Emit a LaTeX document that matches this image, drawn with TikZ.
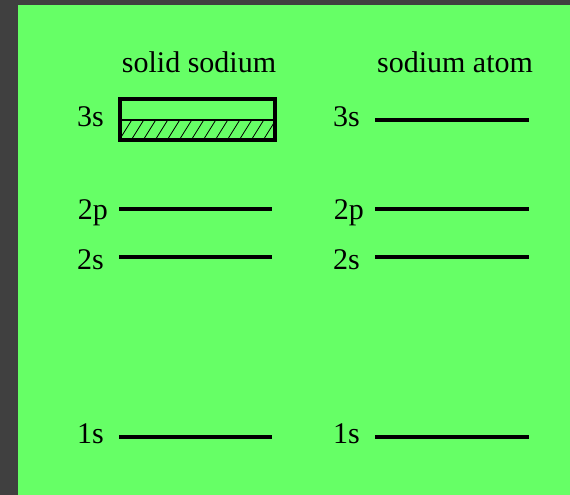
\documentclass[tikz,border=0pt]{standalone}
\usepackage{fontspec}
\setmainfont{Liberation Serif}
\usepackage{tikz}
\usetikzlibrary{positioning, calc}

\definecolor{bggreen}{RGB}{102,255,102}
\definecolor{framegray}{RGB}{64,64,64}

\begin{document}
\begin{tikzpicture}[x=1pt, y=-1pt, font=\fontsize{30}{34}\selectfont]
    \tikzstyle{title} = [anchor=base, inner sep=0pt]
    \tikzstyle{orb} = [anchor=base east, inner sep=0pt]
    \tikzstyle{level} = [line width=3.2pt]
    \tikzstyle{band} = [draw=black, line width=3.2pt]

    % background
    \fill[framegray] (0,0) rectangle (570,495);
    \fill[bggreen] (18,5) rectangle (570,495);
    \useasboundingbox (0,0) rectangle (570,495);

    % titles
    \node (solid) [title] at (199,73) {solid sodium};
    \node (atom) [title] at (455,73) {sodium atom};

    % solid sodium
    \node (s3s) [orb] at (104,126) {3s};
    \node (s2p) [orb] at (108,219) {2p};
    \node (s2s) [orb] at (104,269) {2s};
    \node (s1s) [orb] at (104,443) {1s};
    \coordinate (bandtl) at (120,99);
    \coordinate (bandbr) at (275,140);
    \begin{scope}
        \clip (120,119.5) rectangle (275,140);
        \foreach \i in {0,...,14} {
            \draw[line width=0.8pt] ($(106,142)+(\i*12,0)$) -- ++(15,-24);
        }
    \end{scope}
    \draw[line width=2pt] (120,119.5) -- (275,119.5);
    \draw[band] (bandtl) rectangle (bandbr);
    \draw[level] (119,209) -- (272,209);
    \draw[level] (119,257) -- (272,257);
    \draw[level] (119,437) -- (272,437);

    % sodium atom
    \node (a3s) [orb] at (360,126) {3s};
    \node (a2p) [orb] at (364,219) {2p};
    \node (a2s) [orb] at (360,269) {2s};
    \node (a1s) [orb] at (360,443) {1s};
    \draw[level] (375,120) -- (529,120);
    \draw[level] (375,209) -- (529,209);
    \draw[level] (375,257) -- (529,257);
    \draw[level] (375,437) -- (529,437);
\end{tikzpicture}
\end{document}
